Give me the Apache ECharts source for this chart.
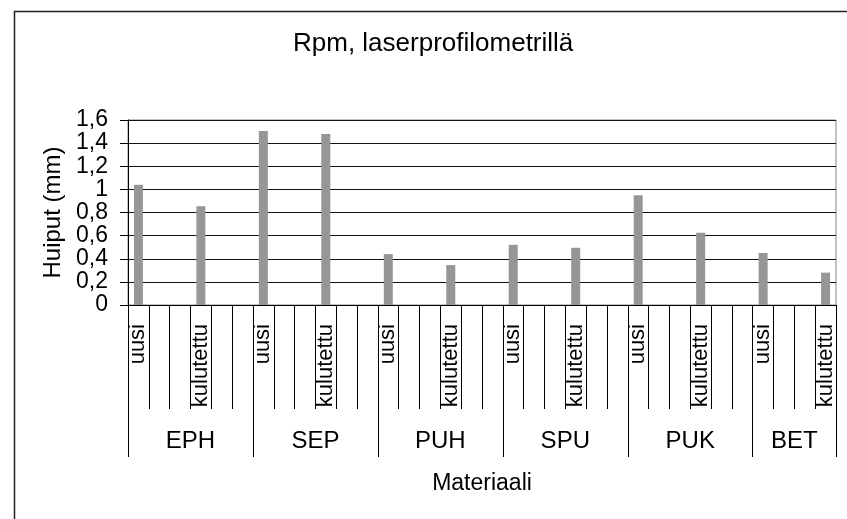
<!DOCTYPE html>
<html>
<head>
<meta charset="utf-8">
<script src="https://cdn.jsdelivr.net/npm/echarts@6/dist/echarts.min.js"></script>
<style>html,body{margin:0;padding:0;background:#fff;}#c{width:847px;height:519px;}</style>
</head>
<body>
<div id="c"></div>
<script>
// ---- data ----
var groups = ['EPH', 'SEP', 'PUH', 'SPU', 'PUK', 'BET'];
var subLabels = ['uusi', 'kulutettu'];
var uusiValues = [1.04, 1.505, 0.44, 0.52, 0.95, 0.45];
var kulutettuValues = [0.855, 1.48, 0.345, 0.495, 0.625, 0.28];
var groupSlots = [6, 6, 6, 6, 6, 4];
var yTicks = ['0', '0,2', '0,4', '0,6', '0,8', '1', '1,2', '1,4', '1,6'];

// ---- build category slots ----
var cats = [], catLabels = [], values = [];
var boundaries = [0], centers = {}, pos = 0;
groups.forEach(function (g, gi) {
  var n = groupSlots[gi];
  for (var s = 0; s < n; s++) {
    cats.push(g + '_' + s);
    if (s === 0) { catLabels.push(subLabels[0]); values.push(uusiValues[gi]); }
    else if (s === 3) { catLabels.push(subLabels[1]); values.push(kulutettuValues[gi]); }
    else { catLabels.push(''); values.push(null); }
  }
  centers[pos + n / 2] = g;
  pos += n;
  boundaries.push(pos);
});
var bCats = [];
for (var i = 0; i <= pos; i++) bCats.push(String(i));

var FONT = 'Liberation Sans, Arial, sans-serif';
var chart = echarts.init(document.getElementById('c'), null, {renderer: 'canvas'});
chart.setOption({
  animation: false,
  backgroundColor: '#fff',
  textStyle: {fontFamily: FONT},
  title: {
    text: 'Rpm, laserprofilometrillä',
    left: 293, top: 31, padding: 0,
    textStyle: {fontFamily: FONT, fontSize: 26, fontWeight: 'normal', color: '#000'}
  },
  graphic: [{
    type: 'rect', silent: true, z: -1,
    shape: {x: 14.5, y: 11.5, width: 900, height: 600},
    style: {fill: 'none', stroke: '#222', lineWidth: 1.5}
  }],
  grid: {left: 128, right: 11, top: 120, bottom: 214, show: true, borderColor: '#888', borderWidth: 1},
  xAxis: [{
    type: 'category', data: cats, boundaryGap: true, position: 'bottom',
    axisLine: {show: true, lineStyle: {color: '#000', width: 1}},
    axisTick: {show: true, interval: 0, length: 104, lineStyle: {color: '#000'}},
    axisLabel: {
      interval: 0, rotate: 90, margin: 19, fontSize: 22, color: '#000', fontFamily: FONT,
      formatter: function (v, idx) { return catLabels[idx]; }
    }
  }, {
    type: 'category', data: bCats, boundaryGap: false, position: 'bottom',
    axisLine: {show: false},
    axisTick: {show: true, length: 152, lineStyle: {color: '#000'},
      interval: function (idx) { return boundaries.indexOf(idx) >= 0; }},
    axisLabel: {
      margin: 124, fontSize: 24, color: '#000', fontFamily: FONT,
      interval: function (idx) { return centers[idx] !== undefined; },
      formatter: function (v, idx) { return centers[idx] || ''; }
    },
    name: 'Materiaali', nameLocation: 'middle', nameGap: 167,
    nameTextStyle: {fontSize: 23, color: '#000', fontFamily: FONT}
  }],
  yAxis: {
    type: 'value', min: 0, max: 1.6, interval: 0.2,
    name: 'Huiput (mm)', nameLocation: 'middle', nameGap: 62, nameRotate: 90,
    nameTextStyle: {fontSize: 24, color: '#000', fontFamily: FONT},
    axisLine: {show: true, lineStyle: {color: '#000'}},
    axisTick: {show: true, length: 8, lineStyle: {color: '#000'}},
    splitLine: {show: true, lineStyle: {color: '#111', width: 1}},
    axisLabel: {
      margin: 20, fontSize: 23, color: '#000', fontFamily: FONT,
      formatter: function (v) { return yTicks[Math.round(v / 0.2)]; }
    }
  },
  series: [{
    type: 'bar', xAxisIndex: 0, data: values, barWidth: 9,
    itemStyle: {color: '#969696'}
  }]
});
</script>
</body>
</html>
